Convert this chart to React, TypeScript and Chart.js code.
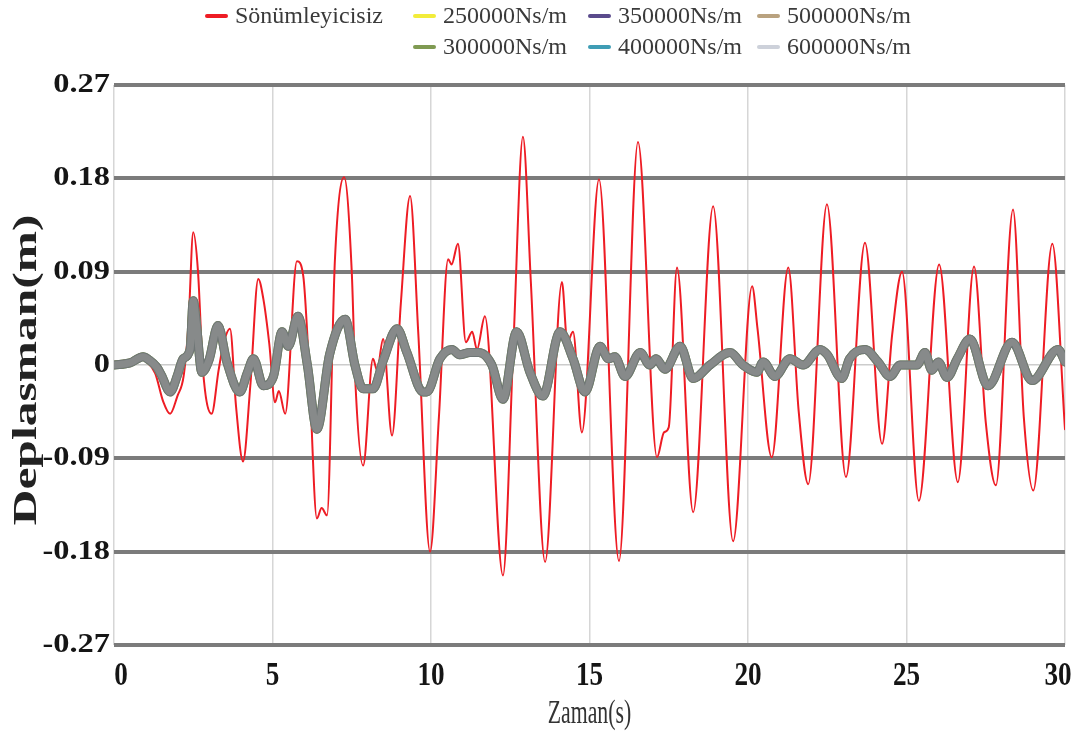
import { useEffect, useRef } from "react";
import { Chart, registerables } from "chart.js";

Chart.register(...registerables);

const SERIF = '"Liberation Serif", "Times New Roman", serif';

// Axis ticks
const xTickValues = [0, 5, 10, 15, 20, 25, 30];
const yTickValues = [-0.27, -0.18, -0.09, 0, 0.09, 0.18, 0.27];
const yTickLabels = ["-0.27", "-0.18", "-0.09", "0", "0.09", "0.18", "0.27"];

// Series names and legend colours
const seriesNames = [
  "Sönümleyicisiz",
  "250000Ns/m",
  "300000Ns/m",
  "350000Ns/m",
  "400000Ns/m",
  "500000Ns/m",
  "600000Ns/m",
];
const seriesColors = ["#ee1c24", "#f2ec3a", "#7f9a52", "#5a4b8c", "#3f9db5", "#b9a27f", "#cdd1da"];

// Undamped response: time (s) and displacement (m)
const undampedTime = [
  0, 0.5, 0.8, 1.0, 1.3, 1.55, 1.77, 2.0, 2.2, 2.35, 2.5, 2.65, 2.8, 3.08, 3.3, 3.45, 3.66, 3.85, 4.07, 4.3,
  4.55, 4.71, 4.9, 5.08, 5.2, 5.4, 5.77, 5.97, 6.15, 6.4, 6.55, 6.72, 6.97, 7.26, 7.5, 7.62, 7.86, 8.17, 8.3,
  8.49, 8.77, 9.05, 9.34, 9.6, 9.97, 10.25, 10.54, 10.65, 10.85, 11.1, 11.3, 11.45, 11.7, 12.27, 12.6, 12.9,
  13.15, 13.6, 14.13, 14.3, 14.48, 14.76, 15.3, 15.93, 16.53, 17.13, 17.35, 17.5, 17.76, 18.27, 18.9, 19.53,
  20.13, 20.3, 20.75, 21.27, 21.6, 21.9, 22.49, 23.09, 23.69, 24.23, 24.55, 24.86, 25.39, 26.03, 26.62, 27.13,
  27.5, 27.82, 28.36, 28.7, 29.0, 29.6, 30.0,
];
const undampedDisp = [
  0.003, 0.005, 0.009, 0.004, -0.008, -0.035, -0.047, -0.03, -0.01, 0.04, 0.128, 0.09, -0.002, -0.047, -0.005,
  0.02, 0.035, -0.04, -0.093, -0.02, 0.083, 0.064, 0.02, -0.036, -0.025, -0.047, 0.1, 0.086, 0.0, -0.148,
  -0.138, -0.145, 0.102, 0.181, 0.09, -0.02, -0.097, 0.006, -0.005, 0.025, -0.068, 0.06, 0.163, 0.03, -0.18,
  -0.05, 0.102, 0.097, 0.117, 0.022, 0.032, 0.015, 0.047, -0.203, 0.02, 0.22, 0.08, -0.19, 0.08, 0.022, 0.032,
  -0.065, 0.179, -0.189, 0.215, -0.089, -0.065, -0.06, 0.094, -0.142, 0.153, -0.17, 0.076, 0.035, -0.089,
  0.094, -0.045, -0.115, 0.155, -0.108, 0.118, -0.076, 0.03, 0.09, -0.131, 0.097, -0.113, 0.095, -0.055,
  -0.116, 0.15, -0.05, -0.121, 0.117, -0.062,
];

// Damped responses (all damper coefficients give nearly the same trace)
const dampedTime = [
  0, 0.5, 0.92, 1.1, 1.35, 1.5, 1.77, 2.0, 2.18, 2.4, 2.5, 2.6, 2.77, 3.0, 3.28, 3.56, 3.97, 4.2, 4.4, 4.71,
  5.03, 5.3, 5.5, 5.8, 6.1, 6.4, 6.8, 7.29, 7.6, 7.86, 8.17, 8.5, 8.93, 9.24, 9.75, 9.87, 10.28, 10.66, 10.9,
  11.23, 11.5, 11.92, 12.27, 12.7, 13.12, 13.53, 14.07, 14.48, 14.86, 15.33, 15.6, 15.8, 16.12, 16.6, 16.9,
  17.1, 17.38, 17.86, 18.27, 18.8, 19.43, 19.84, 20.28, 20.48, 20.85, 21.32, 21.74, 22.27, 22.5, 22.96, 23.2,
  23.69, 24.1, 24.48, 24.8, 25.33, 25.58, 25.8, 26.0, 26.28, 26.6, 27.0, 27.57, 28.33, 28.96, 29.78, 30.0,
];
const dampedDisp = [
  0.0, 0.002, 0.008, 0.005, -0.002, -0.01, -0.026, -0.01, 0.006, 0.015, 0.062, 0.04, -0.007, 0.005, 0.038,
  0.003, -0.026, -0.008, 0.006, -0.02, -0.011, 0.032, 0.018, 0.047, 0.0, -0.062, 0.01, 0.044, 0.0, -0.023,
  -0.023, 0.005, 0.035, 0.012, -0.026, -0.026, 0.006, 0.015, 0.01, 0.012, 0.012, 0.0, -0.033, 0.032, -0.007,
  -0.03, 0.032, 0.006, -0.026, 0.018, 0.006, 0.008, -0.011, 0.012, 0.0, 0.006, -0.004, 0.018, -0.013, 0.0,
  0.012, 0.0, -0.007, 0.003, -0.011, 0.006, 0.0, 0.015, 0.01, -0.013, 0.006, 0.015, 0.003, -0.011, 0.0, 0.0,
  0.012, -0.005, 0.003, -0.012, 0.006, 0.025, -0.02, 0.022, -0.015, 0.015, 0.003,
];

// Legend grid: column / row for each series
const legendCol = [0, 1, 1, 2, 2, 3, 3];
const legendRow = [0, 0, 1, 0, 1, 0, 1];

const toPoints = (t: number[], v: number[]) => t.map((x, i) => ({ x, y: v[i] }));

function drawText(
  ctx: CanvasRenderingContext2D,
  text: string,
  x: number,
  y: number,
  font: string,
  color: string,
  align: CanvasTextAlign,
  sx = 1,
  rotate = 0
) {
  ctx.save();
  ctx.translate(x, y);
  if (rotate) ctx.rotate(rotate);
  ctx.scale(sx, 1);
  ctx.font = font;
  ctx.fillStyle = color;
  ctx.textAlign = align;
  ctx.textBaseline = "middle";
  ctx.fillText(text, 0, 0);
  ctx.restore();
}

const axisTextPlugin = {
  id: "axisText",
  afterDraw(chart: any) {
    const ctx: CanvasRenderingContext2D = chart.ctx;
    const xs = chart.scales.x;
    const ys = chart.scales.y;
    const area = chart.chartArea;

    yTickValues.forEach((v, i) => {
      drawText(ctx, yTickLabels[i], area.left - 4, ys.getPixelForValue(v), `bold 27px ${SERIF}`, "#151515", "right", 1.2);
    });
    const last = xTickValues.length - 1;
    xTickValues.forEach((v, i) => {
      // keep the end labels inside the plot width
      const nudge = i === 0 ? 7 : i === last ? -7 : 0;
      drawText(ctx, String(v), xs.getPixelForValue(v) + nudge, area.bottom + 31, `bold 34px ${SERIF}`, "#151515", "center", 0.8);
    });

    drawText(ctx, "Zaman(s)", (area.left + area.right) / 2, area.bottom + 69, `33px ${SERIF}`, "#333333", "center", 0.66);
    drawText(ctx, "Deplasman(m)", 27, (area.top + area.bottom) / 2 + 5, `bold 33px ${SERIF}`, "#222222", "center", 1.5, -Math.PI / 2);

    // Legend
    const swatchX = [207, 415, 590, 759];
    const rowY = [16, 47];
    seriesNames.forEach((name, i) => {
      const x = swatchX[legendCol[i]];
      const y = rowY[legendRow[i]];
      ctx.save();
      ctx.strokeStyle = seriesColors[i];
      ctx.lineWidth = 4;
      ctx.lineCap = "round";
      ctx.beginPath();
      ctx.moveTo(x, y);
      ctx.lineTo(x + 19, y);
      ctx.stroke();
      ctx.restore();
      drawText(ctx, name, x + 28, y + 1, `24px ${SERIF}`, "#3a3a3a", "left");
    });
  },
};

export default function App() {
  const canvasRef = useRef<HTMLCanvasElement | null>(null);

  useEffect(() => {
    const canvas = canvasRef.current;
    if (!canvas) return;

    const damped = toPoints(dampedTime, dampedDisp);
    const underWidth = 8;

    const datasets: any[] = [
      {
        label: seriesNames[0],
        data: toPoints(undampedTime, undampedDisp),
        borderColor: seriesColors[0],
        borderWidth: 2,
        order: 10,
      },
      { label: seriesNames[1], data: damped, borderColor: seriesColors[1], borderWidth: underWidth, order: 6 },
      { label: seriesNames[3], data: damped, borderColor: seriesColors[3], borderWidth: underWidth, order: 5 },
      { label: seriesNames[5], data: damped, borderColor: seriesColors[5], borderWidth: underWidth, order: 4 },
      { label: seriesNames[2], data: damped, borderColor: seriesColors[2], borderWidth: underWidth + 1, order: 3 },
      { label: seriesNames[4], data: damped, borderColor: "#6f7676", borderWidth: underWidth + 1, order: 2 },
      { label: seriesNames[6], data: damped, borderColor: "#878a8a", borderWidth: 7, order: 0 },
    ].map((d) => ({
      ...d,
      pointRadius: 0,
      fill: false,
      cubicInterpolationMode: "monotone",
      borderJoinStyle: "round",
      borderCapStyle: "round",
    }));

    const chart = new Chart(canvas, {
      type: "line",
      data: { datasets },
      options: {
        responsive: false,
        animation: false,
        devicePixelRatio: 1,
        layout: { padding: { top: 85, right: 19, left: 0, bottom: 0 } },
        plugins: { legend: { display: false }, tooltip: { enabled: false } },
        scales: {
          x: {
            type: "linear",
            min: 0,
            max: 30,
            afterBuildTicks: (scale: any) => {
              scale.ticks = xTickValues.map((value) => ({ value }));
            },
            afterFit: (scale: any) => {
              scale.height = 90;
            },
            ticks: { display: false },
            grid: { color: "#d6d6d6", lineWidth: 1.5, drawTicks: false },
            border: { display: false },
          },
          y: {
            type: "linear",
            min: -0.27,
            max: 0.27,
            afterBuildTicks: (scale: any) => {
              scale.ticks = yTickValues.map((value) => ({ value }));
            },
            afterFit: (scale: any) => {
              scale.width = 114;
            },
            ticks: { display: false },
            grid: {
              color: (c: any) => (Math.abs(c.tick.value) < 1e-9 ? "#cccccc" : "#7b7b7b"),
              lineWidth: (c: any) => (Math.abs(c.tick.value) < 1e-9 ? 1.5 : 4),
              drawTicks: false,
            },
            border: { display: false },
          },
        },
      },
      plugins: [axisTextPlugin],
    });

    return () => chart.destroy();
  }, []);

  return (
    <div style={{ position: "fixed", left: 0, top: 0, width: 1084, height: 735, background: "#ffffff" }}>
      <canvas ref={canvasRef} width={1084} height={735} style={{ display: "block", width: 1084, height: 735 }} />
    </div>
  );
}
